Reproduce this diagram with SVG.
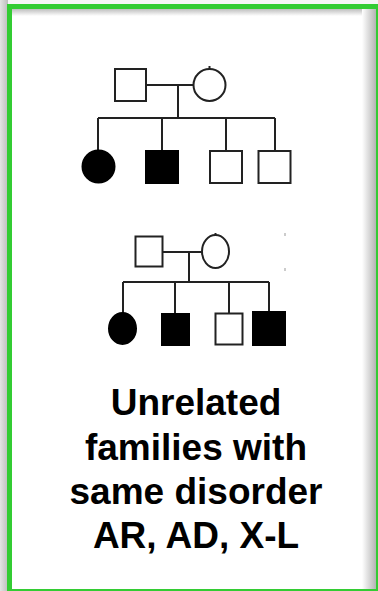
<svg xmlns="http://www.w3.org/2000/svg" width="378" height="591" viewBox="0 0 378 591">
  <defs>
    <linearGradient id="shadeRight" x1="0" y1="0" x2="1" y2="0">
      <stop offset="0" stop-color="#ffffff"/>
      <stop offset="1" stop-color="#a9a9a9"/>
    </linearGradient>
    <linearGradient id="shadeTop" x1="0" y1="0" x2="0" y2="1">
      <stop offset="0" stop-color="#b5b5b5"/>
      <stop offset="1" stop-color="#ffffff"/>
    </linearGradient>
    <linearGradient id="shadeLeft" x1="0" y1="0" x2="1" y2="0">
      <stop offset="0" stop-color="#e4e4e4"/>
      <stop offset="1" stop-color="#bdbdbd"/>
    </linearGradient>
    <style>
      .ln { stroke: #222; stroke-width: 2; fill: none; }
      .open { stroke: #222; stroke-width: 2; fill: #fff; }
      .filled { stroke: #000; stroke-width: 2; fill: #000; }
      .label { font-family: "Liberation Sans", Arial, Helvetica, sans-serif; font-weight: bold; font-size: 37px; fill: #000; text-anchor: middle; }
    </style>
  </defs>

  <!-- panel background and frame shading -->
  <rect x="0" y="0" width="378" height="591" fill="#f6f6f6"/>
  <rect x="0" y="0" width="8" height="591" fill="url(#shadeLeft)"/>
  <rect x="10" y="8" width="368" height="583" fill="#ffffff"/>
  <rect x="10" y="8" width="368" height="8" fill="url(#shadeTop)"/>
  <rect x="362" y="8" width="16" height="583" fill="url(#shadeRight)"/>
  <rect x="9.5" y="6.5" width="369" height="585" fill="none" stroke="#33cc33" stroke-width="5"/>

  <!-- family 1 -->
  <g id="family1-connectors">
    <line class="ln" x1="146" y1="85" x2="193" y2="85"/>
    <line class="ln" x1="178" y1="85" x2="178" y2="118"/>
    <line class="ln" x1="98" y1="118" x2="275" y2="118"/>
    <line class="ln" x1="98" y1="118" x2="98" y2="150"/>
    <line class="ln" x1="162" y1="118" x2="162" y2="150"/>
    <line class="ln" x1="226" y1="118" x2="226" y2="150"/>
    <line class="ln" x1="275" y1="118" x2="275" y2="150"/>
  </g>
  <g id="f1-father"><rect class="open" x="115" y="69" width="31" height="32"/></g>
  <g id="f1-mother"><circle class="open" cx="209.5" cy="85" r="16"/><line class="ln" x1="209.5" y1="66" x2="209.5" y2="69" stroke-width="1"/></g>
  <g id="f1-daughter"><circle class="filled" cx="98.5" cy="166.5" r="16"/></g>
  <g id="f1-son1"><rect class="filled" x="146" y="151" width="32" height="32"/></g>
  <g id="f1-son2"><rect class="open" x="210" y="151" width="32" height="32"/></g>
  <g id="f1-son3"><rect class="open" x="258.5" y="151" width="32" height="32"/></g>

  <!-- family 2 -->
  <g id="family2-connectors">
    <line class="ln" x1="162" y1="252" x2="202" y2="252"/>
    <line class="ln" x1="189" y1="252" x2="189" y2="282"/>
    <line class="ln" x1="123" y1="282" x2="269" y2="282"/>
    <line class="ln" x1="123" y1="282" x2="123" y2="313"/>
    <line class="ln" x1="175" y1="282" x2="175" y2="313"/>
    <line class="ln" x1="229" y1="282" x2="229" y2="313"/>
    <line class="ln" x1="269" y1="282" x2="269" y2="312"/>
  </g>
  <g id="f2-father"><rect class="open" x="135.5" y="236.5" width="27" height="30"/></g>
  <g id="f2-mother"><ellipse class="open" cx="215.5" cy="251.5" rx="13.5" ry="16.5"/><line class="ln" x1="215.5" y1="233" x2="215.5" y2="235.5" stroke-width="1"/></g>
  <g id="f2-daughter"><ellipse class="filled" cx="122.5" cy="328.5" rx="13.5" ry="15.5"/></g>
  <g id="f2-son1"><rect class="filled" x="162" y="314" width="27" height="31"/></g>
  <g id="f2-son2"><rect class="open" x="215.5" y="313.5" width="27" height="31"/></g>
  <g id="f2-son3"><rect class="filled" x="253" y="312" width="32" height="33"/></g>
  <line x1="285" y1="233" x2="285" y2="236" stroke="#999" stroke-width="1"/>
  <line x1="285" y1="268" x2="285" y2="271" stroke="#999" stroke-width="1"/>

  <!-- caption -->
  <g id="caption">
    <text class="label" x="196" y="415">Unrelated</text>
    <text class="label" x="196" y="459.5">families with</text>
    <text class="label" x="196" y="504">same disorder</text>
    <text class="label" x="196" y="548">AR, AD, X-L</text>
  </g>
</svg>
